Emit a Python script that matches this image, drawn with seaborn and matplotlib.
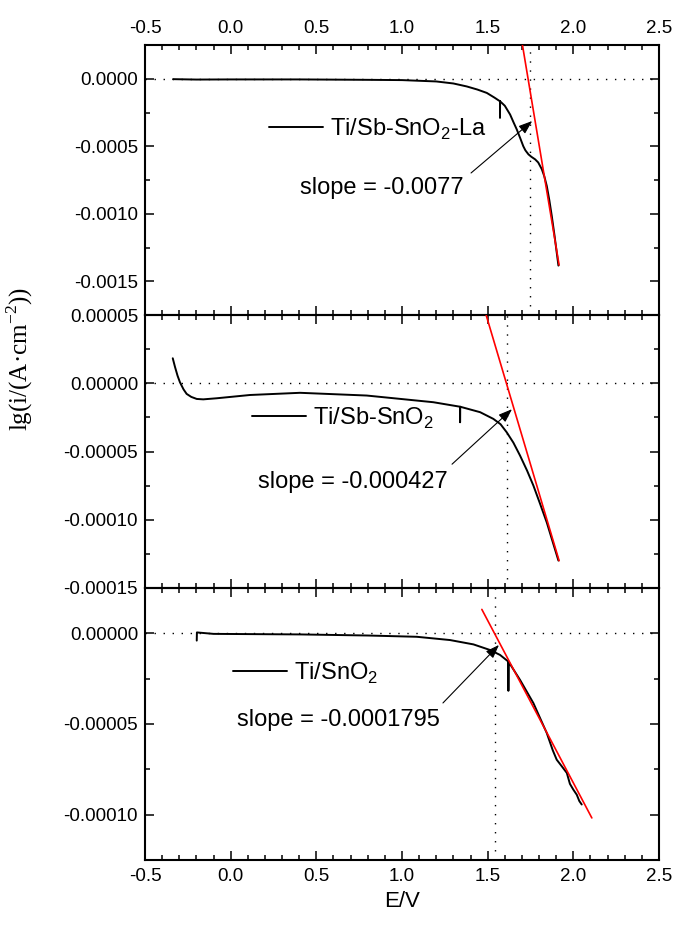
import numpy as np
import pandas as pd
import matplotlib
matplotlib.use('Agg')
import matplotlib.pyplot as plt
from matplotlib.ticker import MultipleLocator, FuncFormatter
import seaborn as sns

sns.set_style('ticks')
plt.rcParams['font.family'] = ['Liberation Sans', 'DejaVu Sans']
for k in ['text.color', 'axes.edgecolor', 'axes.labelcolor',
          'xtick.color', 'ytick.color']:
    plt.rcParams[k] = 'black'

# ---------------- data ----------------
# Panel 1: Ti/Sb-SnO2-La
la_E = [-0.336, -0.2, 0.0, 0.4, 0.8, 1.0, 1.2, 1.3, 1.378, 1.44, 1.495, 1.54,
        1.572, 1.572, 1.5725, 1.60, 1.631, 1.65, 1.670, 1.69, 1.708, 1.72,
        1.738, 1.755, 1.777, 1.795, 1.816, 1.83, 1.845, 1.86, 1.874, 1.89,
        1.913]
la_lg = [-0.000003, -0.000006, -0.000005, -0.000005, -0.000008, -0.00001,
         -0.00002, -0.000035, -0.000057, -0.00008, -0.000105, -0.00014,
         -0.000167, -0.00029, -0.000167, -0.0002, -0.000265, -0.00032,
         -0.000376, -0.00044, -0.0005, -0.00053, -0.00056, -0.000578,
         -0.000597, -0.00062, -0.00067, -0.00072, -0.000794, -0.0009,
         -0.001015, -0.00116, -0.001384]
la_fit_E = [1.703, 1.917]
la_fit_lg = [0.00025, -0.00138]
la_cross_E = 1.748
la_name = 'Ti/Sb-SnO$_\\mathregular{2}$-La'
la_slope = 'slope = -0.0077'

# Panel 2: Ti/Sb-SnO2
sb_E = [-0.338, -0.325, -0.31, -0.296, -0.275, -0.257, -0.23, -0.198, -0.16,
        -0.081, 0.113, 0.405, 0.794, 1.183, 1.339, 1.339, 1.3395, 1.456,
        1.533, 1.575, 1.611, 1.65, 1.689, 1.73, 1.767, 1.805, 1.845, 1.913]
sb_lg = [1.83e-5, 1.2e-5, 0.55e-5, 0.07e-5, -0.45e-5, -0.78e-5, -1.0e-5,
         -1.15e-5, -1.18e-5, -1.1e-5, -0.86e-5, -0.7e-5, -0.9e-5, -1.39e-5,
         -1.72e-5, -2.86e-5, -1.72e-5, -2.12e-5, -2.61e-5, -3.0e-5, -3.59e-5,
         -4.35e-5, -5.3e-5, -6.4e-5, -7.5e-5, -8.8e-5, -10.2e-5, -12.99e-5]
sb_fit_E = [1.491, 1.917]
sb_fit_lg = [0.00005, -0.00013]
sb_cross_E = 1.611
sb_name = 'Ti/Sb-SnO$_\\mathregular{2}$'
sb_slope = 'slope = -0.000427'

# Panel 3: Ti/SnO2
sn_E = [-0.198, -0.197, -0.1, 0.405, 0.8, 1.086, 1.28, 1.417, 1.514, 1.572,
        1.621, 1.621, 1.6215, 1.689, 1.767, 1.845, 1.88, 1.903, 1.93, 1.962,
        1.98, 2.0, 2.02, 2.035, 2.049]
sn_lg = [-0.4e-5, 0.05e-5, -0.03e-5, -0.06e-5, -0.12e-5, -0.19e-5, -0.37e-5,
         -0.61e-5, -0.92e-5, -1.19e-5, -1.56e-5, -3.17e-5, -1.56e-5, -2.57e-5,
         -3.85e-5, -5.5e-5, -6.45e-5, -6.97e-5, -7.3e-5, -7.7e-5, -8.3e-5,
         -8.62e-5, -8.9e-5, -9.25e-5, -9.44e-5]
sn_fit_E = [1.466, 2.108]
sn_fit_lg = [1.32e-5, -10.18e-5]
sn_cross_E = 1.543
sn_name = 'Ti/SnO$_\\mathregular{2}$'
sn_slope = 'slope = -0.0001795'

x_ticks_major = 0.5
# ----------------------------------------------------------------

W, H = 675, 927
fig = plt.figure(figsize=(W / 100, H / 100), dpi=100)


def fr(l, t, r, b):
    return [l / W, 1 - b / H, (r - l) / W, (b - t) / H]


panels = [
    dict(E=la_E, lg=la_lg, fE=la_fit_E, flg=la_fit_lg, cx=la_cross_E,
         name=la_name, slope=la_slope, rect=fr(145, 45, 659, 315),
         ylim=(-0.00175, 0.00025), major=0.0005, minor=0.00025, dec=4,
         leg=(0.241, 0.689), txt=(0.405, -0.000809),
         tail=(1.403, -0.000698), head=(1.760, -0.000313)),
    dict(E=sb_E, lg=sb_lg, fE=sb_fit_E, flg=sb_fit_lg, cx=sb_cross_E,
         name=sb_name, slope=sb_slope, rect=fr(145, 315, 659, 588),
         ylim=(-0.00015, 0.00005), major=0.00005, minor=0.000025, dec=5,
         leg=(0.208, 0.623), txt=(0.16, -7.25e-5),
         tail=(1.292, -5.93e-5), head=(1.642, -1.9e-5)),
    dict(E=sn_E, lg=sn_lg, fE=sn_fit_E, flg=sn_fit_lg, cx=sn_cross_E,
         name=sn_name, slope=sn_slope, rect=fr(145, 588, 659, 860),
         ylim=(-0.000125, 0.000025), major=0.00005, minor=0.000025, dec=5,
         leg=(0.171, 0.6875), txt=(0.037, -4.78e-5),
         tail=(1.239, -3.84e-5), head=(1.566, -0.64e-5)),
]

dot = (0, (1, 5.5))
for i, p in enumerate(panels):
    ax = fig.add_axes(p['rect'])
    df = pd.DataFrame({'E': p['E'], 'lg': p['lg']})
    fit = pd.DataFrame({'E': p['fE'], 'lg': p['flg']})
    ax.axhline(0, color='black', lw=1.0, ls=dot, zorder=1)
    ax.axvline(p['cx'], color='black', lw=1.0, ls=dot, zorder=1)
    sns.lineplot(data=df, x='E', y='lg', ax=ax, sort=False, estimator=None,
                 color='black', lw=1.4, label=p['name'], zorder=3)
    sns.lineplot(data=fit, x='E', y='lg', ax=ax, sort=False, estimator=None,
                 color='#ff0000', lw=1.2, zorder=4, legend=False)
    ax.set_xlim(-0.5, 2.5)
    ax.set_ylim(*p['ylim'])
    ax.set_xlabel('')
    ax.set_ylabel('')
    ax.xaxis.set_major_locator(MultipleLocator(x_ticks_major))
    ax.xaxis.set_minor_locator(MultipleLocator(0.1))
    ax.yaxis.set_major_locator(MultipleLocator(p['major']))
    ax.yaxis.set_minor_locator(MultipleLocator(p['minor']))
    dec = p['dec']
    ax.yaxis.set_major_formatter(FuncFormatter(
        lambda v, pos, d=dec: f"{0.0 if abs(v) < 1e-12 else v:.{d}f}"))
    ax.xaxis.set_major_formatter(FuncFormatter(
        lambda v, pos: f"{0.0 if abs(v) < 1e-9 else v:.1f}"))
    ax.tick_params(which='both', direction='in', top=True, right=True,
                   width=1.1, labelsize=13.5, pad=6, color='black',
                   labelcolor='black')
    ax.tick_params(which='major', length=6.5)
    ax.tick_params(which='minor', length=3.5)
    ax.tick_params(axis='y', pad=5)
    ax.tick_params(labeltop=(i == 0), labelbottom=(i == 2))
    for s in ax.spines.values():
        s.set_linewidth(1.5)
        s.set_color('black')
        s.set_visible(True)
    ax.patch.set_alpha(0)
    ax.legend(loc='center left', bbox_to_anchor=p['leg'], frameon=False,
              fontsize=17, handlelength=2.3, handletextpad=0.3, borderpad=0,
              borderaxespad=0)
    ax.text(p['txt'][0], p['txt'][1], p['slope'], fontsize=17,
            ha='left', va='center', color='black')
    ax.annotate('', xy=p['head'], xytext=p['tail'],
                arrowprops=dict(arrowstyle='-|>,head_length=0.55,head_width=0.2',
                                lw=0.8, color='black', shrinkA=0, shrinkB=0,
                                mutation_scale=15))
    if i == 2:
        ax.set_xlabel('E/V', fontsize=16, labelpad=4, color='black')

fig.text(20 / W, 1 - 359 / H, 'lg(i/(A·cm$^{\\mathregular{-2}}$))',
         rotation=90, ha='center', va='center', fontsize=18, color='black',
         family=['Liberation Serif', 'DejaVu Serif'])

fig.savefig('out.png', dpi=100)
